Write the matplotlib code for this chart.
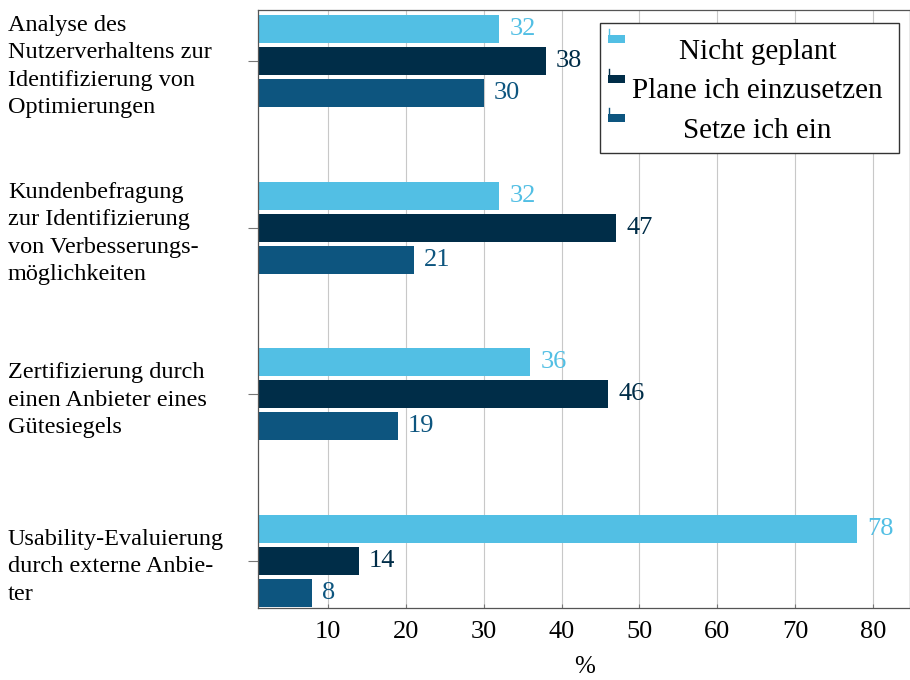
import numpy as np
import matplotlib
matplotlib.use("Agg")
import matplotlib.pyplot as plt
from matplotlib.patches import Rectangle
from matplotlib.lines import Line2D

# survey answers in percent, one list per answer
categories = [
    "Analyse des\nNutzerverhaltens zur\nIdentifizierung von\nOptimierungen",
    "Kundenbefragung\nzur Identifizierung\nvon Verbesserungs-\nmöglichkeiten",
    "Zertifizierung durch\neinen Anbieter eines\nGütesiegels",
    "Usability-Evaluierung\ndurch externe Anbie-\nter",
]
series_names = ["Nicht geplant", "Plane ich einzusetzen", "Setze ich ein"]
nicht_geplant = [32, 32, 36, 78]
plane_ich = [38, 47, 46, 14]
setze_ich = [30, 21, 19, 8]
x_ticks = [10, 20, 30, 40, 50, 60, 70, 80]

colors = ["#52bfe4", "#002d48", "#0d557f"]
W, H = 910, 680

plt.rcParams["font.family"] = ["Liberation Serif", "DejaVu Serif"]

fig = plt.figure(figsize=(W / 100, H / 100), dpi=100)
ax = fig.add_axes([257.8 / W, 1 - 608 / H, (910.4 - 257.8) / W, 598 / H])


def px(x, y):
    return x / W, 1 - y / H


y = np.arange(len(categories))
offsets = [-0.192, 0.0, 0.192]
for vals, off, col in zip([nicht_geplant, plane_ich, setze_ich], offsets, colors):
    bars = ax.barh(y + off, vals, height=0.168, color=col, zorder=2)
    for b, v in zip(bars, vals):
        ax.annotate(str(v), (b.get_width(), b.get_y() + b.get_height() / 2),
                    xytext=(7.2, 0), textcoords="offset points",
                    ha="left", va="center", color=col, fontsize=19, zorder=3)

ax.set_xlim(1, 84.8)
ax.set_ylim(3.282, -0.306)
ax.set_xticks(x_ticks)
ax.set_xticklabels([str(t) for t in x_ticks], fontsize=19)
ax.set_yticks(y)
ax.set_yticklabels(categories, fontsize=17.5, ha="left", linespacing=1.4)
ax.tick_params(axis="y", direction="out", length=7.2, width=0.8, color="#777777", pad=172.8)
ax.tick_params(axis="x", direction="in", length=3, width=0.8, color="#777777", pad=9)
ax.grid(axis="x", color="#c8c8c8", linewidth=0.8, zorder=0)
ax.set_axisbelow(True)
for s in ax.spines.values():
    s.set_color("#555555")
    s.set_linewidth(0.9)
ax.set_xlabel("%", fontsize=18, labelpad=10)

# legend drawn by hand, pgfplots style: icon top-left, text centred
x0, y0 = px(600, 153)
x1, y1 = px(899, 23)
fig.add_artist(Rectangle((x0, y0), x1 - x0, y1 - y0, transform=fig.transFigure,
                         facecolor="white", edgecolor="#333333", linewidth=1.0, zorder=5))
for i, (name, col) in enumerate(zip(series_names, colors)):
    top = 29 + i * 39.5
    rx, ry = px(608.3, top + 14)
    rw = 17 / W
    rh = 8 / H
    fig.add_artist(Rectangle((rx, ry), rw, rh, transform=fig.transFigure,
                             facecolor=col, edgecolor="none", zorder=6))
    lx, ly0 = px(608.6, top + 6)
    _, ly1 = px(608.6, top)
    fig.add_artist(Line2D([lx, lx], [ly0, ly1], transform=fig.transFigure,
                          color=col, linewidth=1.0, zorder=6))
    tx, ty = px(757.5, 59 + i * 39.5)
    fig.text(tx, ty, name, ha="center", va="baseline", fontsize=21, zorder=7)

fig.savefig("out.png", dpi=100)
